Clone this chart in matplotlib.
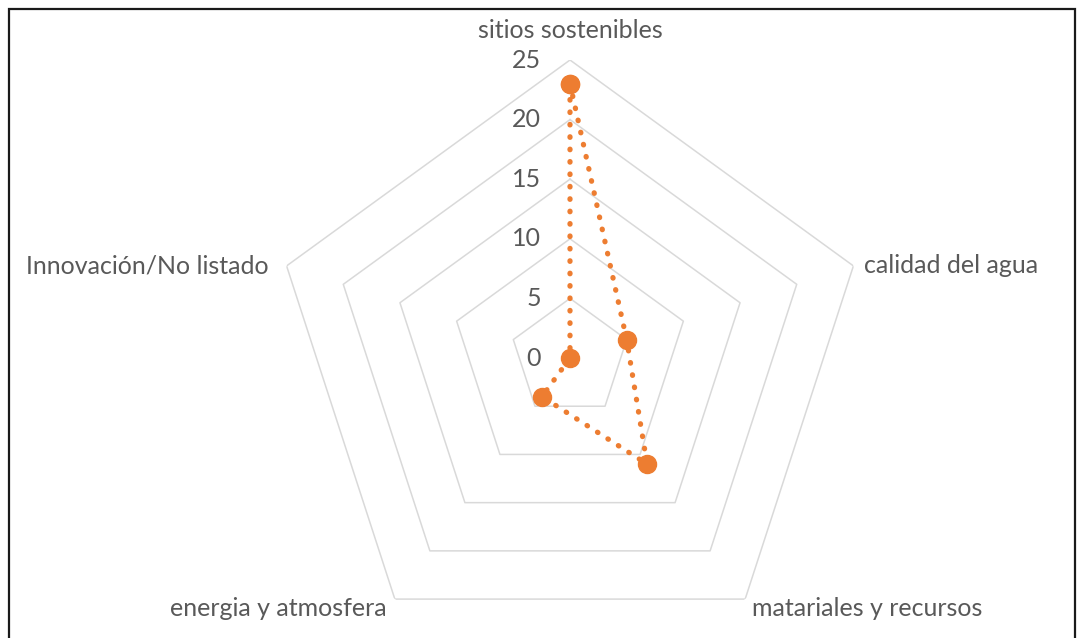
import numpy as np
import matplotlib
matplotlib.use("Agg")
import matplotlib.pyplot as plt
from matplotlib.patches import Rectangle

# LEED credit categories and scores
categories = ["sitios sostenibles", "calidad del agua", "matariales y recursos",
              "energia y atmosfera", "Innovación/No listado"]
scores = [23, 5, 11, 4, 0]
ring_values = [0, 5, 10, 15, 20, 25]

ORANGE = "#ED7D31"
GRID = "#D9D9D9"
TEXT = "#595959"
plt.rcParams["font.family"] = ["Lato", "DejaVu Sans"]
FS = 18

fig = plt.figure(figsize=(10.79, 6.38), dpi=100)
W, H = 1079, 638
cx, cy, rad = 570, 358, 298
ax = fig.add_axes([(cx - rad) / W, (H - cy - rad) / H, 2 * rad / W, 2 * rad / H],
                  projection="polar")
ax.set_theta_offset(np.pi / 2)
ax.set_theta_direction(-1)
ax.set_ylim(0, 25)
ax.grid(False)
ax.set_xticks([])
ax.set_yticks([])
ax.spines["polar"].set_visible(False)
ax.patch.set_visible(False)

n = len(categories)
angles = np.linspace(0, 2 * np.pi, n, endpoint=False)
closed = np.append(angles, angles[0])

# pentagon gridlines
for r in ring_values[1:]:
    ax.plot(closed, [r] * (n + 1), color=GRID, lw=1.1, zorder=1)

# value labels along the top axis
for r in ring_values:
    ax.annotate(str(r), xy=(0, r), xytext=(-29, 0), textcoords="offset pixels",
                ha="right", va="center", fontsize=FS, color=TEXT)

# category labels around the outside
offsets = [((0, 29), "center", "center"),
           ((11, 0), "left", "center"),
           ((7, -9), "left", "center"),
           ((-8, -9), "right", "center"),
           ((-18, 0), "right", "center")]
for ang, name, (off, ha, va) in zip(angles, categories, offsets):
    ax.annotate(name, xy=(ang, 25), xytext=off, textcoords="offset pixels",
                ha=ha, va=va, fontsize=FS, color=TEXT, annotation_clip=False)

vals = np.append(scores, scores[0])
ax.plot(closed, vals, color=ORANGE, lw=3.8, linestyle=(0, (0.1, 2.25)),
        dash_capstyle="round", marker="o", markersize=13, zorder=3,
        clip_on=False)

# chart border
fig.patches.append(Rectangle((8.5 / W, -0.02), (1075 - 8.5) / W, 1.02 - 9 / H,
                             transform=fig.transFigure, fill=False,
                             edgecolor="#1a1a1a", lw=1.6))

fig.savefig("out.png", dpi=100)
